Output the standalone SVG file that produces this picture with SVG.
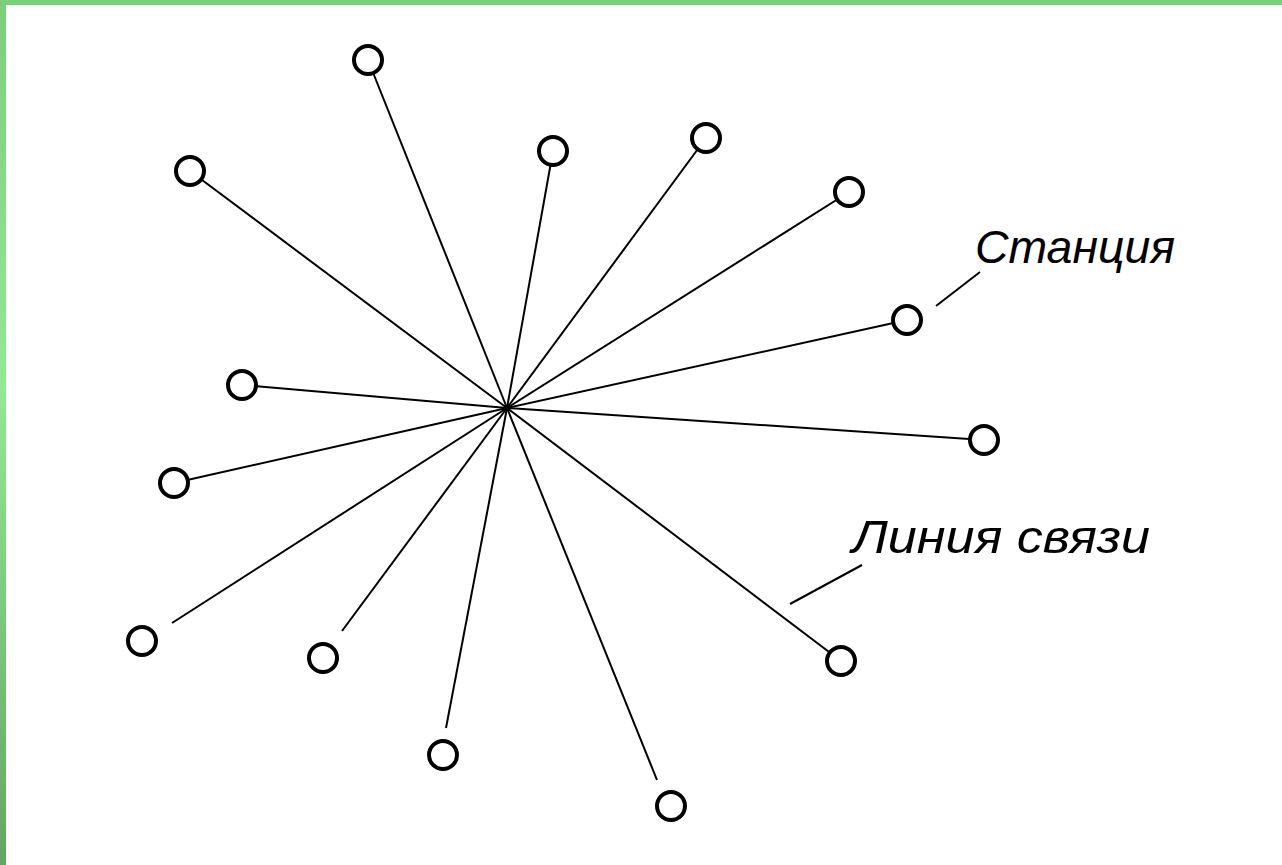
<svg xmlns="http://www.w3.org/2000/svg" width="1282" height="865" viewBox="0 0 1282 865">
<style>
.link{stroke:#000;stroke-width:2;fill:none}
.node{fill:#fff;stroke:#000;stroke-width:4}
.lbl{font-family:"Liberation Sans",Arial,sans-serif;font-style:italic;font-size:46px;fill:#000}
.lead{stroke:#000;stroke-width:2}
</style>
<defs>
<linearGradient id="lg" x1="0" y1="0" x2="0" y2="1">
<stop offset="0" stop-color="#7bcf7b"/>
<stop offset="0.45" stop-color="#92ea92"/>
<stop offset="1" stop-color="#63a563"/>
</linearGradient>
</defs>
<rect x="0" y="0" width="1282" height="865" fill="#fff"/>
<rect x="0" y="0" width="1282" height="5" fill="#7bcf7b"/>
<rect x="0" y="0" width="6" height="865" fill="url(#lg)"/>
<g id="connectors">
<line class="link" x1="507" y1="408" x2="368" y2="60"/>
<line class="link" x1="507" y1="408" x2="190" y2="171"/>
<line class="link" x1="507" y1="408" x2="553" y2="151"/>
<line class="link" x1="507" y1="408" x2="706" y2="138"/>
<line class="link" x1="507" y1="408" x2="849" y2="192"/>
<line class="link" x1="507" y1="408" x2="907" y2="320"/>
<line class="link" x1="507" y1="408" x2="242" y2="385"/>
<line class="link" x1="507" y1="408" x2="984" y2="440"/>
<line class="link" x1="507" y1="408" x2="174" y2="483"/>
<line class="link" x1="507" y1="408" x2="172" y2="623"/>
<line class="link" x1="507" y1="408" x2="342" y2="631"/>
<line class="link" x1="507" y1="408" x2="446" y2="728"/>
<line class="link" x1="507" y1="408" x2="657" y2="780"/>
<line class="link" x1="507" y1="408" x2="841" y2="661"/>
<line class="lead" x1="936" y1="306" x2="980" y2="272"/>
<line class="lead" x1="790" y1="604" x2="862" y2="565"/>
</g>
<g id="hub"><circle cx="507" cy="408" r="3" fill="#000"/></g>
<g id="n1"><circle class="node" cx="368" cy="60" r="14"/></g>
<g id="n2"><circle class="node" cx="190" cy="171" r="14"/></g>
<g id="n3"><circle class="node" cx="553" cy="151" r="14"/></g>
<g id="n4"><circle class="node" cx="706" cy="138" r="14"/></g>
<g id="n5"><circle class="node" cx="849" cy="192" r="14"/></g>
<g id="n6"><circle class="node" cx="907" cy="320" r="14"/></g>
<g id="n7"><circle class="node" cx="242" cy="385" r="14"/></g>
<g id="n8"><circle class="node" cx="984" cy="440" r="14"/></g>
<g id="n9"><circle class="node" cx="174" cy="483" r="14"/></g>
<g id="n10"><circle class="node" cx="142" cy="641" r="14"/></g>
<g id="n11"><circle class="node" cx="323" cy="658" r="14"/></g>
<g id="n12"><circle class="node" cx="443" cy="755" r="14"/></g>
<g id="n13"><circle class="node" cx="671" cy="806" r="14"/></g>
<g id="n14"><circle class="node" cx="841" cy="661" r="14"/></g>
<g id="labels">
<text class="lbl" x="975" y="263" textLength="200" lengthAdjust="spacingAndGlyphs">Станция</text>
<text class="lbl" x="852" y="553" textLength="298" lengthAdjust="spacingAndGlyphs">Линия связи</text>
</g>
</svg>
